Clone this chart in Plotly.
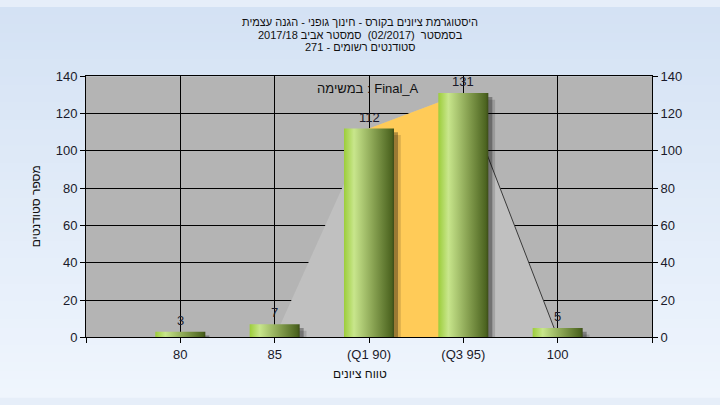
import plotly.graph_objects as go

# ---- data ----
categories = ["80", "85", "(Q1 90)", "(Q3 95)", "100"]
counts = [3, 7, 112, 131, 5]
# outline of the light-grey distribution shape (category index, value)
shape_idx = [1, 2, 3, 4]
shape_val = [0, 112, 131, 0]
# orange inter-quartile band (category index, value)
iqr_idx = [2, 3]
iqr_val = [112, 131]

title_lines = [
    "היסטוגרמת ציונים בקורס - חינוך גופני - הגנה עצמית",
    "בסמסטר  (02/2017)  סמסטר אביב 2017/18",
    "סטודנטים רשומים - 271",
]
task_label = "במשימה : Final_A"
x_title = "טווח ציונים"
y_title = "מספר סטודנטים"
y_ticks = [0, 20, 40, 60, 80, 100, 120, 140]

W, H = 720, 405
PL, PR, PT, PB = 86, 652, 72, 343
FONT = "Liberation Sans, Arial, sans-serif"

fig = go.Figure()

# light grey distribution polygon
fig.add_trace(go.Scatter(
    x=shape_idx, y=shape_val, fill="toself", mode="lines",
    line=dict(width=0), fillcolor="#c0c0c0", hoverinfo="skip", showlegend=False))
# orange IQR band
fig.add_trace(go.Scatter(
    x=[iqr_idx[0], iqr_idx[0], iqr_idx[1], iqr_idx[1]],
    y=[0, iqr_val[0], iqr_val[1], 0], fill="toself", mode="lines",
    line=dict(width=0), fillcolor="#ffcb58", hoverinfo="skip", showlegend=False))
# right edge line
fig.add_trace(go.Scatter(
    x=shape_idx[2:], y=shape_val[2:], mode="lines",
    line=dict(color="#3a3a3a", width=1), hoverinfo="skip", showlegend=False))

half = 0.265
dx = 4 / ((PR - PL) / 6)
dy = 4 / ((PB - PT) / 140)
for i, v in enumerate(counts):
    # soft shadow
    for k, a in [(1.7, 0.14), (1.0, 0.3)]:
        fig.add_trace(go.Scatter(
            x=[i - half + dx * k, i + half + dx * k, i + half + dx * k, i - half + dx * k],
            y=[-dy * k, -dy * k, v - dy * k, v - dy * k],
            fill="toself", mode="lines", line=dict(width=0),
            fillcolor=f"rgba(0,0,0,{a})", hoverinfo="skip", showlegend=False))
    # gradient bar
    fig.add_trace(go.Scatter(
        x=[i - half, i + half, i + half, i - half],
        y=[0, 0, v, v], fill="toself", mode="lines",
        line=dict(width=0),
        fillgradient=dict(type="horizontal",
                          colorscale=[[0, "#9ccd3a"], [0.2, "#c8e68c"],
                                      [0.6, "#86a050"], [0.95, "#4c6420"],
                                      [1, "#3c4c18"]]),
        hoverinfo="skip", showlegend=False))

# dummy trace for right axis
fig.add_trace(go.Scatter(x=[0], y=[0], yaxis="y2", mode="markers",
                         marker=dict(opacity=0), hoverinfo="skip", showlegend=False))

shapes = []
# background gradient bands
n = 45
top = (212, 226, 244)
bot = (239, 245, 253)
for j in range(n):
    t = j / (n - 1)
    c = tuple(round(top[k] + (bot[k] - top[k]) * t) for k in range(3))
    shapes.append(dict(type="rect", xref="paper", yref="paper",
                       x0=0, x1=1, y0=1 - (j + 1) / n - 0.002, y1=1 - j / n,
                       fillcolor=f"rgb{c}", line=dict(width=0), layer="below"))
# plot area
shapes.append(dict(type="rect", xref="x domain", yref="y domain", x0=0, x1=1, y0=0, y1=1,
                   fillcolor="#b4b4b4", line=dict(width=0), layer="below"))

annotations = []
for k, line in enumerate(title_lines):
    annotations.append(dict(text=line, xref="paper", yref="paper",
                            x=360 / W, y=1 - (16 + 13 * k) / H, xanchor="center", yanchor="middle",
                            showarrow=False, borderpad=0,
                            font=dict(family=FONT, size=11, color="#111")))
for i, v in enumerate(counts):
    annotations.append(dict(text=str(v), x=i, y=v, xref="x", yref="y", yanchor="bottom",
                            yshift=2, showarrow=False,
                            font=dict(family=FONT, size=13, color="#1a1a2a")))
annotations.append(dict(text=task_label, xref="paper", yref="paper", x=368 / W, y=1 - 85 / H,
                        xanchor="center", yanchor="middle", showarrow=False,
                        font=dict(family=FONT, size=13, color="#111")))
annotations.append(dict(text=x_title, xref="paper", yref="paper", x=360 / W, y=1 - 381 / H,
                        xanchor="center", yanchor="middle", showarrow=False,
                        font=dict(family=FONT, size=12, color="#111")))
annotations.append(dict(text=y_title, xref="paper", yref="paper", x=36 / W, y=1 - 207 / H,
                        xanchor="center", yanchor="middle", textangle=-90, showarrow=False,
                        font=dict(family=FONT, size=12, color="#111")))

axis_common = dict(showline=True, linecolor="black", linewidth=1, ticks="outside",
                   ticklen=5, tickcolor="black", tickwidth=1,
                   tickfont=dict(family=FONT, size=13, color="#1a1a2a"), zeroline=False)

fig.update_layout(
    width=W, height=H, margin=dict(l=0, r=0, t=0, b=0),
    paper_bgcolor="#e6eef9", plot_bgcolor="rgba(0,0,0,0)",
    shapes=shapes, annotations=annotations, showlegend=False,
    xaxis=dict(domain=[PL / W, PR / W], range=[-1, 5],
               tickvals=list(range(-1, len(categories) + 1)),
               ticktext=[""] + categories + [""],
               showgrid=True, gridcolor="black", gridwidth=1, mirror=True, **axis_common),
    yaxis=dict(domain=[1 - PB / H, 1 - PT / H], range=[0, 140], tickvals=y_ticks,
               showgrid=True, gridcolor="black", gridwidth=1, mirror=True, **axis_common),
    yaxis2=dict(overlaying="y", side="right", range=[0, 140], tickvals=y_ticks,
                showgrid=False, **axis_common),
)

fig.write_html(
    "out.html",
    config={"displayModeBar": False},
    post_script=("document.documentElement.style.margin='0';"
                 "document.documentElement.style.overflow='hidden';"
                 "document.body.style.margin='0';document.body.style.padding='0';"
                 "document.body.style.overflow='hidden';"
                 "document.body.style.background='#eef5fd';"),
)
